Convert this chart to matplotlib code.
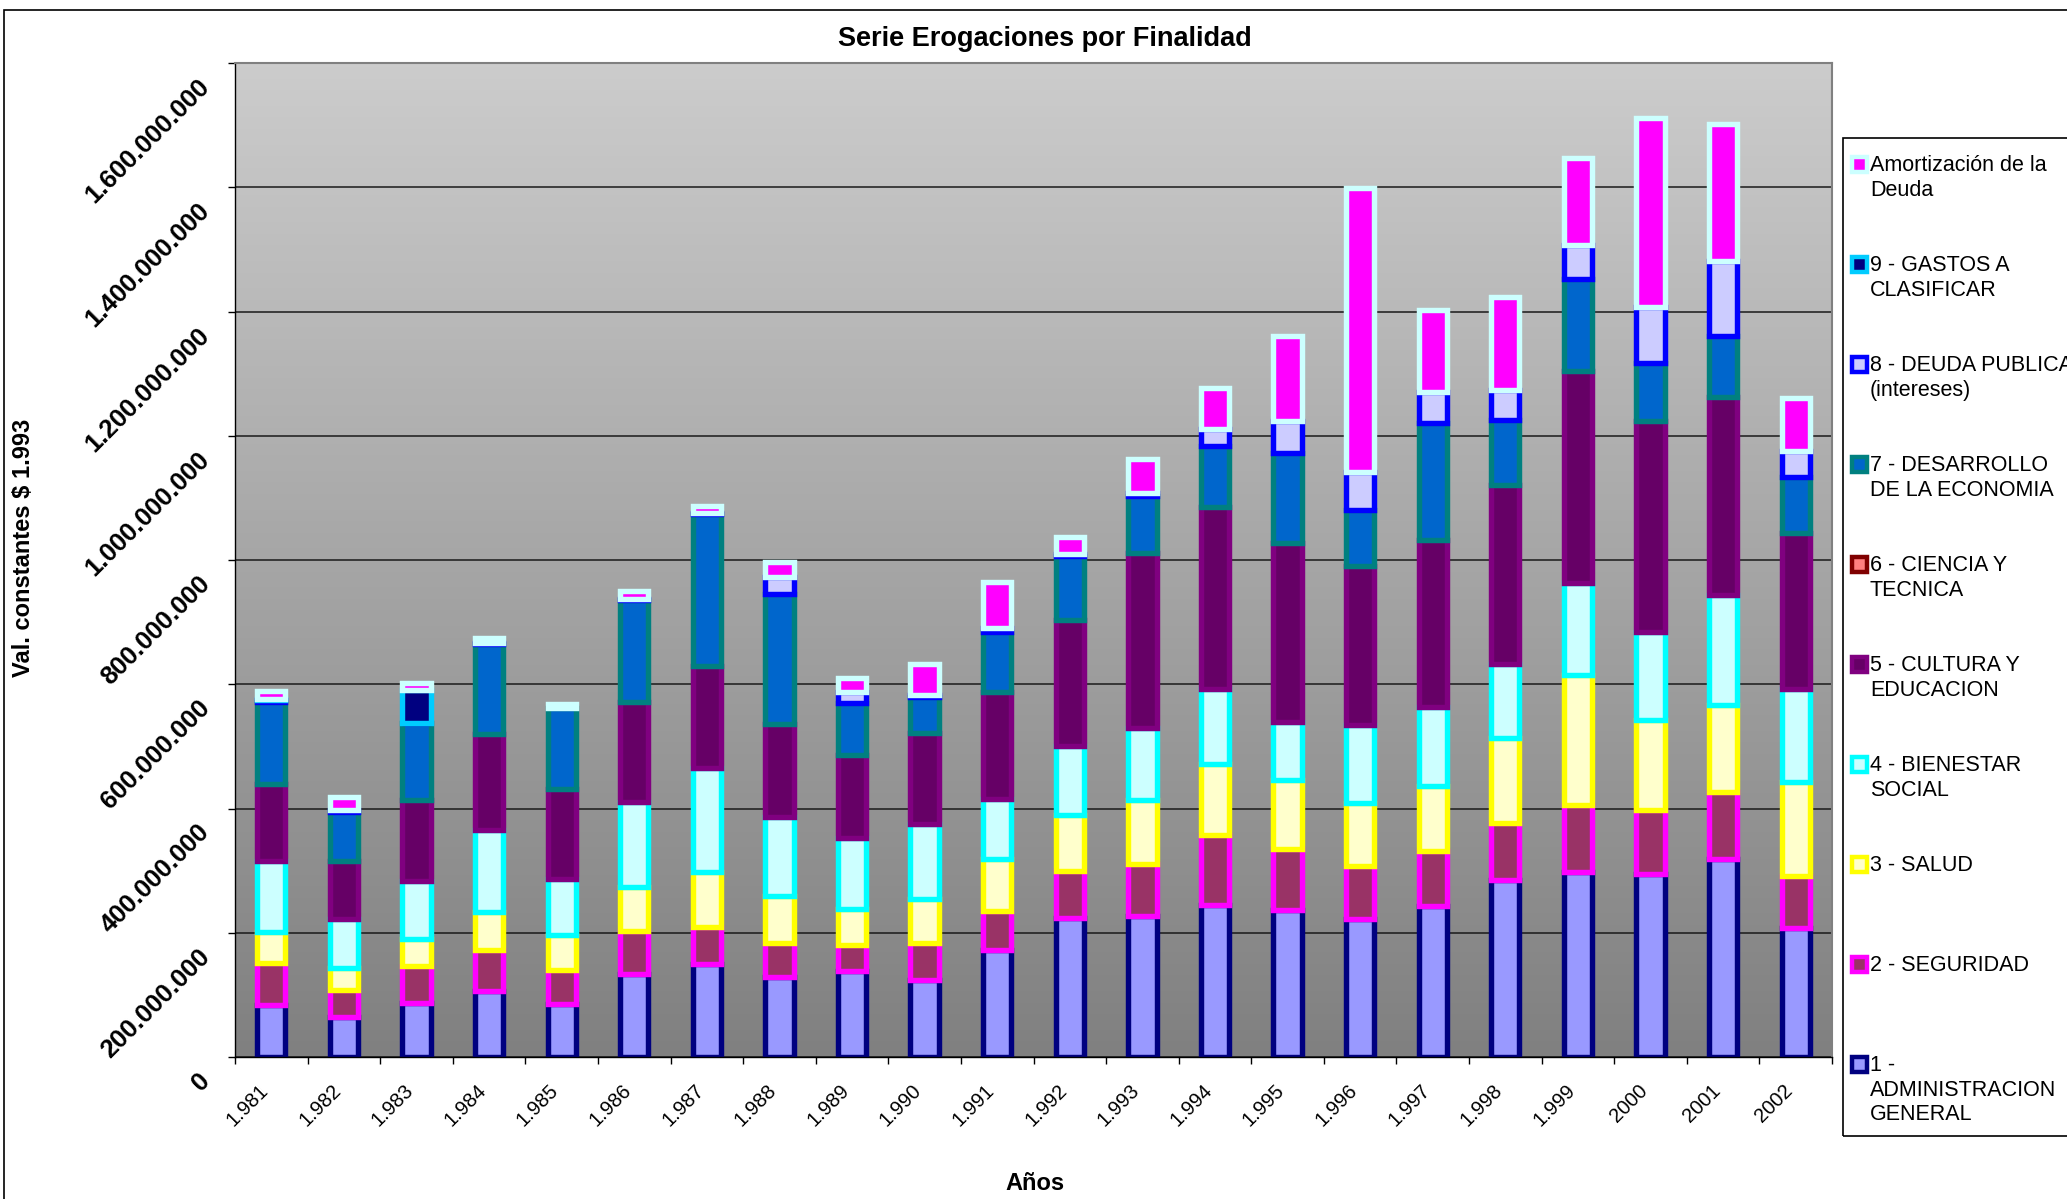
import numpy as np
import matplotlib
matplotlib.use("Agg")
import matplotlib.pyplot as plt
import matplotlib.transforms as mtransforms
from matplotlib.patches import Rectangle
from matplotlib.ticker import FuncFormatter

plt.rcParams['font.family'] = ['Liberation Sans', 'DejaVu Sans']

years = ['1.981', '1.982', '1.983', '1.984', '1.985', '1.986', '1.987', '1.988', '1.989', '1.990',
         '1.991', '1.992', '1.993', '1.994', '1.995', '1.996', '1.997', '1.998', '1.999', '2000',
         '2001', '2002']

# millones de $ constantes 1993
admin = [84, 65, 87, 107, 85, 133, 149, 128, 138, 124, 172, 224, 227, 245, 236, 222, 243, 285, 297, 294, 319, 208]
seguridad = [68, 43, 59, 65, 55, 70, 60, 55, 42, 60, 63, 75, 83, 112, 99, 86, 88, 91, 108, 103, 107, 84]
salud = [49, 35, 44, 62, 56, 71, 89, 76, 58, 70, 83, 90, 104, 115, 111, 101, 106, 137, 210, 146, 141, 151]
bienestar = [114, 79, 93, 132, 91, 136, 167, 128, 115, 121, 98, 111, 115, 120, 94, 126, 127, 120, 148, 141, 177, 149]
cultura = [125, 93, 131, 154, 145, 161, 164, 149, 133, 147, 171, 204, 282, 293, 288, 255, 268, 288, 341, 339, 319, 251]
ciencia = [0, 0, 0, 0, 0, 0, 0, 0, 0, 0, 0, 0, 0, 0, 0, 0, 0, 0, 0, 0, 0, 0]
desarrollo = [132, 79, 123, 145, 129, 165, 245, 209, 84, 58, 97, 102, 92, 99, 145, 90, 189, 105, 149, 94, 98, 91]
deuda = [2, 3, 1, 2, 0, 2, 2, 28, 17, 2, 7, 4, 5, 27, 50, 62, 49, 48, 54, 91, 120, 41]
gastos = [2, 0, 53, 0, 0, 0, 0, 0, 0, 0, 0, 0, 0, 0, 0, 0, 0, 0, 0, 0, 0, 0]
amortizacion = [13, 22, 11, 8, 7, 12, 11, 23, 23, 50, 73, 27, 54, 66, 137, 456, 132, 149, 140, 303, 221, 85]

series = [admin, seguridad, salud, bienestar, cultura, ciencia, desarrollo, deuda, gastos, amortizacion]
names = ['1 -\nADMINISTRACION\nGENERAL', '2 - SEGURIDAD', '3 - SALUD', '4 - BIENESTAR\nSOCIAL',
         '5 - CULTURA Y\nEDUCACION', '6 - CIENCIA Y\nTECNICA', '7 - DESARROLLO\nDE LA ECONOMIA',
         '8 - DEUDA PUBLICA\n(intereses)', '9 - GASTOS A\nCLASIFICAR', 'Amortización de la\nDeuda']
faces = ['#9999FF', '#993366', '#FFFFCC', '#CCFFFF', '#660066', '#FF8080', '#0066CC', '#CCCCFF', '#000080', '#FF00FF']
edges = ['#000080', '#FF00FF', '#FFFF00', '#00FFFF', '#800080', '#800000', '#008080', '#0000FF', '#00CCFF', '#CCFFFF']

W, H = 2067, 1199
fig = plt.figure(figsize=(W / 100, H / 100), dpi=100)
ax = fig.add_axes([235 / W, 1 - 1057 / H, (1832 - 235) / W, (1057 - 63) / H])

x = np.arange(len(years))
ax.set_xlim(-0.5, len(years) - 0.5)
ax.set_ylim(0, 1.6e9)

# fondo degradado gris
grad = np.linspace(204, 128, 256) / 255
img = np.dstack([grad, grad, grad]).reshape(256, 1, 3)
ax.imshow(img, extent=[-0.5, len(years) - 0.5, 0, 1.6e9], aspect='auto', zorder=-2)

ax.set_axisbelow(True)
ax.yaxis.grid(True, color='#1a1a1a', lw=1.1)

bottom = np.zeros(len(years))
for vals, fc, ec in zip(series, faces, edges):
    v = np.array(vals) * 1e6
    m = v > 0
    ax.bar(x[m], v[m], width=0.39, bottom=bottom[m], color=fc, edgecolor=ec, linewidth=3.9, zorder=2)
    bottom += v

ax.set_yticks(np.arange(0, 1.6e9 + 1, 2e8))
ax.yaxis.set_major_formatter(FuncFormatter(lambda v, p: f"{v:,.0f}".replace(',', '.')))
ax.tick_params(axis='y', length=5, width=1, pad=16, labelsize=18.5)
ax.set_xticks(x)
ax.set_xticklabels(years)
ax.set_xticks(np.arange(-0.5, len(years), 1), minor=True)
ax.tick_params(axis='x', which='major', length=0, pad=22, labelsize=14.5)
ax.tick_params(axis='x', which='minor', length=5, width=1)

for lab in ax.get_yticklabels():
    lab.set_fontweight('bold')
    lab.set_rotation(45)
    lab.set_rotation_mode('anchor')
    lab.set_ha('right')
    lab.set_va('center')
    lab.set_transform(lab.get_transform() + mtransforms.ScaledTranslation(0, -0.2, fig.dpi_scale_trans))
for lab in ax.get_xticklabels():
    lab.set_rotation(45)
    lab.set_rotation_mode('anchor')
    lab.set_ha('right')
    lab.set_va('center')
    lab.set_transform(lab.get_transform() + mtransforms.ScaledTranslation(-0.06, 0, fig.dpi_scale_trans))

for s in ['top', 'right']:
    ax.spines[s].set_color('#808080')
    ax.spines[s].set_linewidth(1.5)
for s in ['left', 'bottom']:
    ax.spines[s].set_color('black')
    ax.spines[s].set_linewidth(1)

fig.text(1045 / W, 1 - 39 / H, 'Serie Erogaciones por Finalidad', ha='center', va='center',
         fontsize=19.5, fontweight='bold')
fig.text(24 / W, 1 - 548 / H, 'Val. constantes $ 1.993', rotation=90, ha='center', va='center',
         fontsize=17, fontweight='bold')
fig.text(1035 / W, 1 - 1183 / H, 'Años', ha='center', va='center', fontsize=17, fontweight='bold')

# marco exterior y leyenda
fig.add_artist(Rectangle((4 / W, -0.02), 1.1, 1 - 10 / H + 0.02, transform=fig.transFigure,
                         fill=False, ec='black', lw=1.2))
fig.add_artist(Rectangle((1843 / W, 1 - 1136 / H), 0.2, (1136 - 138) / H, transform=fig.transFigure,
                         fill=False, ec='black', lw=1.2))
for k, i in enumerate(range(len(series) - 1, -1, -1)):
    yc = 164 + 100 * k
    fig.add_artist(Rectangle((1852 / W, 1 - (yc + 8) / H), 15 / W, 15 / H, transform=fig.transFigure,
                             fc=faces[i], ec=edges[i], lw=3.2))
    fig.text(1870 / W, 1 - (yc - 9) / H, names[i], ha='left', va='top', fontsize=15.5, linespacing=1.22)

fig.savefig('out.png', dpi=100)
